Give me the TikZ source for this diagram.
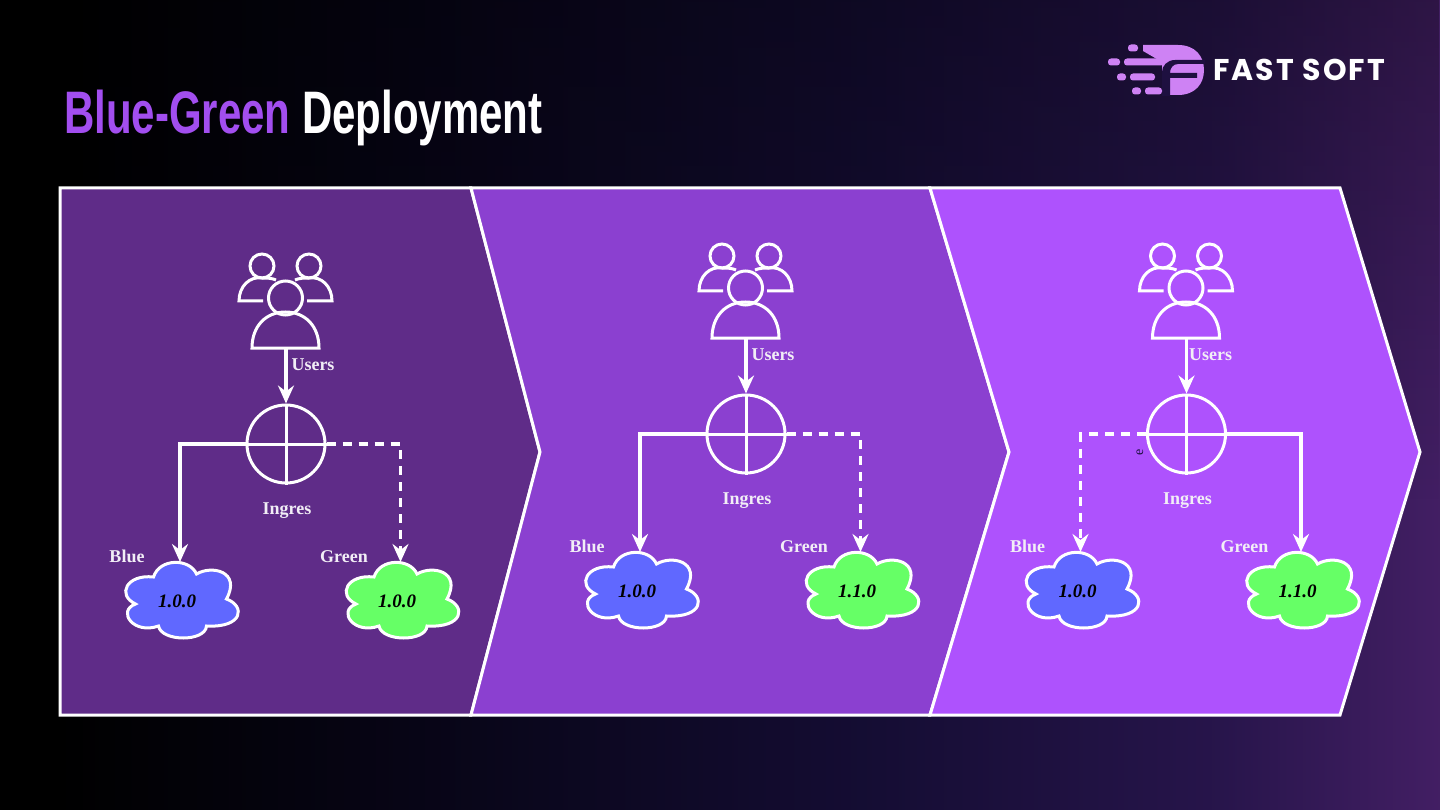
\documentclass[tikz,border=0pt]{standalone}
\usepackage{fontspec}
\setmainfont{Liberation Serif}
\newfontfamily\titlefont{Liberation Sans}
\newfontfamily\logofont[LetterSpace=7]{Poppins}
\usetikzlibrary{arrows.meta,positioning,fadings}
\definecolor{stepone}{HTML}{5F2C88}
\definecolor{steptwo}{HTML}{8B40D0}
\definecolor{stepthree}{HTML}{AE52FD}
\definecolor{cloudblue}{HTML}{6068FF}
\definecolor{cloudgreen}{HTML}{66FF66}
\definecolor{titlepurple}{HTML}{A24EEF}
\definecolor{logolilac}{HTML}{CE82F4}
\definecolor{logodark}{HTML}{1E1040}
\pgfdeclarehorizontalshading{slidebg}{100bp}{
  rgb(0bp)=(0,0,0); rgb(27bp)=(0,0,0); rgb(40bp)=(0.03,0.02,0.09);
  rgb(55bp)=(0.08,0.05,0.20); rgb(67bp)=(0.15,0.08,0.29); rgb(75bp)=(0.26,0.12,0.39); rgb(100bp)=(0.26,0.12,0.39)}
\tikzset{
  panel/.style    = {draw=white, line width=3pt, line join=miter},
  icon/.style     = {draw=white, line width=3pt},
  link/.style     = {draw=white, line width=3.3pt, -{Stealth[length=18pt,width=16pt,inset=6pt]}},
  linkdash/.style = {link, dash pattern=on 9pt off 7pt},
  lab/.style      = {font=\fontsize{18}{20}\selectfont\bfseries, text=white!92!stepone, inner sep=0pt},
  verlab/.style   = {font=\fontsize{19}{21}\selectfont\bfseries\itshape, text=black, inner sep=0pt},
  cloudpath/.style= {draw=white, line width=3pt},
  pill/.style     = {fill=logolilac, rounded corners=3pt},
}
% #1 = prefix, #2 = dx, #3 = dy
\newcommand{\usersicon}[3]{%
  \begin{scope}[shift={(#2,#3)}]
    \draw[icon] (262,266) circle (12);
    \draw[icon] (309,266) circle (12);
    \draw[icon] (263,301) -- (239,301) .. controls (239,286) and (250,276) .. (262,278)
      .. controls (266,278) and (272,278) .. (276,280);
    \draw[icon] (307,301) -- (332,301) .. controls (332,286) and (321,276) .. (309,278)
      .. controls (305,278) and (299,278) .. (295,280);
    \draw[icon] (252,348) -- (319,348) .. controls (319,326) and (305,312) .. (285.5,312)
      .. controls (266,312) and (252,326) .. (252,348) -- cycle;
    \node[circle, icon, minimum size=34pt, inner sep=0pt] (#1head) at (285.5,298) {};
    \coordinate (#1feet) at (286,348);
  \end{scope}}
% #1 = prefix, #2 = colour, #3 = x, #4 = y
\newcommand{\envcloud}[4]{%
  \begin{scope}[shift={(#3,#4)}]
    \draw[cloudpath, fill=#2] (-46,3) .. controls (-65,-6) and (-55,-27) .. (-28,-24)
      .. controls (-22,-43) and (8,-43) .. (15,-27)
      .. controls (30,-36) and (60,-30) .. (45,-2)
      .. controls (64,5) and (62,27) .. (25,25)
      .. controls (24,41) and (-20,41) .. (-23,25)
      .. controls (-48,34) and (-65,10) .. (-46,3) -- cycle;
    \coordinate (#1top) at (-1.5,-39);
  \end{scope}}
% #1 = prefix, #2 = dx, #3 = dy, #4 = blue label, #5 = green label, #6 = blue line, #7 = green line, #8 = users label x
\newcommand{\deploystep}[8]{%
  \usersicon{#1}{#2}{#3}
  \begin{scope}[shift={(#2,#3)}]
    \node[circle, icon, minimum size=78pt, inner sep=0pt] (#1ing) at (286,444) {};
    \draw[icon] (#1ing.north) -- (#1ing.south);
    \draw[icon] (#1ing.west) -- (#1ing.east);
    \node[lab] (#1users) at (#8,365) {Users};
    \node[lab] (#1ingres) at (287,511) {Ingres};
    \node[lab] (#1blue) at (127,556.5) {Blue};
    \node[lab] (#1green) at (344,557) {Green};
    \envcloud{#1b}{cloudblue}{181.5}{601}
    \envcloud{#1g}{cloudgreen}{402}{601}
    \node[verlab] (#1bver) at (177,601) {#4};
    \node[verlab] (#1gver) at (397,601) {#5};
  \end{scope}
  \draw[link] (#1feet) -- (#1ing.north);
  \draw[#6] (#1ing.west) -| (#1btop);
  \draw[#7] (#1ing.east) -| (#1gtop);}

\begin{document}
\begin{tikzpicture}[x=1pt,y=-1pt]
  \useasboundingbox (0,0) rectangle (1440,810);
  \shade[shading=slidebg] (0,0) rectangle (1440,810);
  \fill[black, opacity=0.3, path fading=south] (0,0) rectangle (1440,500);

  % panels
  \draw[panel, fill=stepone] (60,188) -- (471,188) -- (540,452) -- (471,715) -- (60,715) -- cycle;
  \draw[panel, fill=steptwo] (471,188) -- (930,188) -- (1009,452) -- (930,715) -- (471,715) -- (540,452) -- cycle;
  \draw[panel, fill=stepthree] (930,188) -- (1340,188) -- (1420,452) -- (1340,715) -- (930,715) -- (1009,452) -- cycle;

  % title
  \node[anchor=west, inner sep=0pt, xscale=0.7, font=\titlefont\fontsize{60}{64}\selectfont\bfseries, text=white]
    (title) at (64,118) {\textcolor{titlepurple}{Blue-Green} Deployment};

  % the three steps
  \deploystep{a}{0}{0}{1.0.0}{1.0.0}{link}{linkdash}{313}
  \deploystep{b}{460}{-10}{1.0.0}{1.1.0}{link}{linkdash}{313}
  \deploystep{c}{900.5}{-10}{1.0.0}{1.1.0}{linkdash}{link}{310}
  \node[font=\fontsize{14}{15}\selectfont, text=logodark, rotate=90, inner sep=0pt] (stray) at (1140,452) {e};

  % logo
  \fill[logolilac] (1143,45) -- (1178,45) .. controls (1195,45) and (1204,56) .. (1204,70)
    .. controls (1204,84) and (1195,95) .. (1178,95) -- (1162,95) -- (1162,62)
    -- (1143,51) -- cycle;
  \fill[logodark] (1162,96) -- (1162,72) .. controls (1162,66) and (1167,60) .. (1175,60) -- (1205,60)
    -- (1205,64) -- (1178,64) .. controls (1173,64) and (1170,68) .. (1170,73) -- (1197,73) -- (1197,78)
    -- (1170,78) -- (1170,96) -- cycle;
  \foreach \px/\py/\pw in {1128/48/10, 1108/62/12, 1124/62/40, 1117/77/9, 1130/77/25, 1132/91/9, 1145/91/17}
    \fill[pill] (\px,\py-3.5) rectangle ++(\pw,7);
  \node[anchor=west, inner sep=0pt, font=\logofont\fontsize{30}{32}\selectfont\bfseries, text=white]
    (brand) at (1213,70) {FAST SOFT};
\end{tikzpicture}
\end{document}
